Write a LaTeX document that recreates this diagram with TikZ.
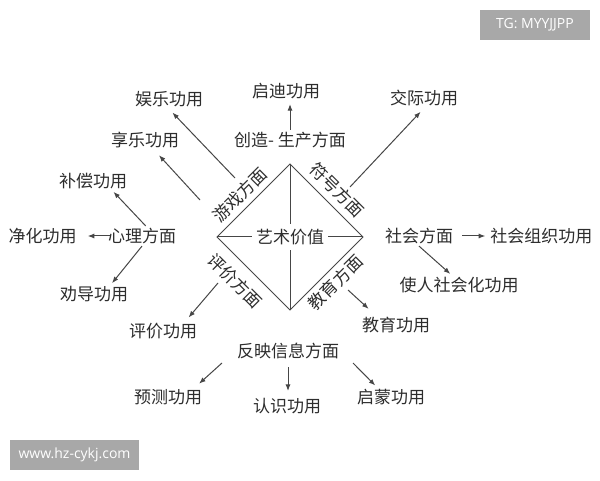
\documentclass[tikz,border=0pt]{standalone}
\usepackage{fontspec}
\setmainfont{Noto Sans CJK SC}
\newfontfamily\wmfont{Open Sans}
\usepackage{tikz}
\usetikzlibrary{positioning}
\usetikzlibrary{arrows.meta}
\definecolor{ink}{RGB}{45,45,45}
\definecolor{wire}{RGB}{70,70,70}
\definecolor{wmgray}{RGB}{168,168,168}

\begin{document}
\begin{tikzpicture}
    [ x=1pt, y=1pt,
    every node/.style={inner sep=2pt, text=ink, font=\fontsize{17}{20}\selectfont},
    line/.style={draw=wire, line width=1pt},
    arr/.style={line, -{Latex[length=6.5pt,width=5pt]}},
    value/.style={fill=white, inner xsep=4pt, inner ysep=5pt},
    wmbox/.style={fill=wmgray, text=white, minimum height=30pt,
      font=\wmfont\fontsize{14}{16}\selectfont}
    ]

    \fill[white] (0,0) rectangle (600,480);
    \useasboundingbox (0,0) rectangle (600,480);

    % diamond
    \coordinate (dt) at (290,316);
    \coordinate (dr) at (363,243);
    \coordinate (db) at (290,170);
    \coordinate (dl) at (217,243);

    \node[value] (art) at (290,243) {艺术价值};
    \draw[line] (dt) -- (dr) -- (db) -- (dl) -- cycle;
    \draw[line] (dt) -- (art.north) (art.south) -- (db);
    \draw[line] (dl) -- (art.west) (art.east) -- (dr);

    \path (dl) -- node[pos=0.45, sloped, above=3.5pt] (youxi) {游戏方面} (dt);
    \path (dt) -- node[pos=0.5, sloped, above=4.5pt] (fuhao) {符号方面} (dr);
    \path (dl) -- node[pos=0.42, sloped, below=8pt] (pingjiafm) {评价方面} (db);
    \path (db) -- node[pos=0.5, sloped, below=2.5pt] (jiaoyufm) {教育方面} (dr);

    % aspects and functions
    \node (chuangzao) at (290,340) {创造- 生产方面};
    \node (qidi) at (286,389) {启迪功用};
    \node (yule) at (169,381) {娱乐功用};
    \node (xiangle) at (145,340) {享乐功用};
    \node (buchang) at (93,299) {补偿功用};
    \node (xinli) at (142,244) {心理方面};
    \node[left=27pt of xinli] (jinghua) {净化功用};
    \node (quandao) at (94,186) {劝导功用};
    \node (jiaoji) at (424,382) {交际功用};
    \node (shehui) at (419,244) {社会方面};
    \node[right=33pt of shehui] (zuzhi) {社会组织功用};
    \node (shehuihua) at (459,195) {使人社会化功用};
    \node (jiaoyu) at (396,155) {教育功用};
    \node (pingjia) at (163,149) {评价功用};
    \node (fanying) at (288,129) {反映信息方面};
    \node (yuce) at (168,83) {预测功用};
    \node (renshi) at (287,74) {认识功用};
    \node (qimeng) at (391,83) {启蒙功用};

    \coordinate (c-yule) at (235,302);
    \coordinate (c-xiangle) at (200,280);
    \coordinate (c-jiaoji) at (350,293);
    \coordinate (c-jiaoyu) at (348,190);
    \coordinate (c-pingjia) at (218,197);
    \coordinate (c-yuce) at (222,117);
    \coordinate (c-qimeng) at (353,117);

    \draw[arr, shorten >=5pt] (c-yule) -- (yule.south);
    \draw[arr, shorten >=7pt] (c-xiangle) -- (xiangle);
    \draw[arr, shorten >=3pt] (chuangzao.north) -- (chuangzao.north |- qidi.south);
    \draw[arr, shorten >=5pt] (c-jiaoji) -- (jiaoji.south);
    \draw[arr, shorten >=1pt] (xinli.70) -- (buchang.-27);
    \draw[arr, shorten <=-4pt, shorten >=9pt] (xinli.west) -- (jinghua.east);
    \draw[arr, shorten >=1pt] (xinli.south) -- (quandao.30);
    \draw[arr, shorten <=7pt, shorten >=3pt] (shehui.east) -- (zuzhi.west);
    \draw[arr, shorten >=1.5pt] (shehui.south) -- (shehuihua.127);
    \draw[arr, shorten >=9pt] (c-jiaoyu) -- (jiaoyu.154);
    \draw[arr, shorten >=4.5pt] (c-pingjia) -- (pingjia.24);
    \draw[arr, shorten >=5pt] (c-yuce) -- (yuce.20);
    \draw[arr, shorten <=6pt, shorten >=5pt] (fanying.south) -- (fanying.south |- renshi.north);
    \draw[arr, shorten >=2pt] (c-qimeng) -- (qimeng.145);

    % watermarks
    \node[wmbox, minimum width=110pt] (tg) at (535,455) {TG: MYYJJPP};
    \node[wmbox, minimum width=129pt] (site) at (74.5,25) {www.hz-cykj.com};
\end{tikzpicture}
\end{document}
